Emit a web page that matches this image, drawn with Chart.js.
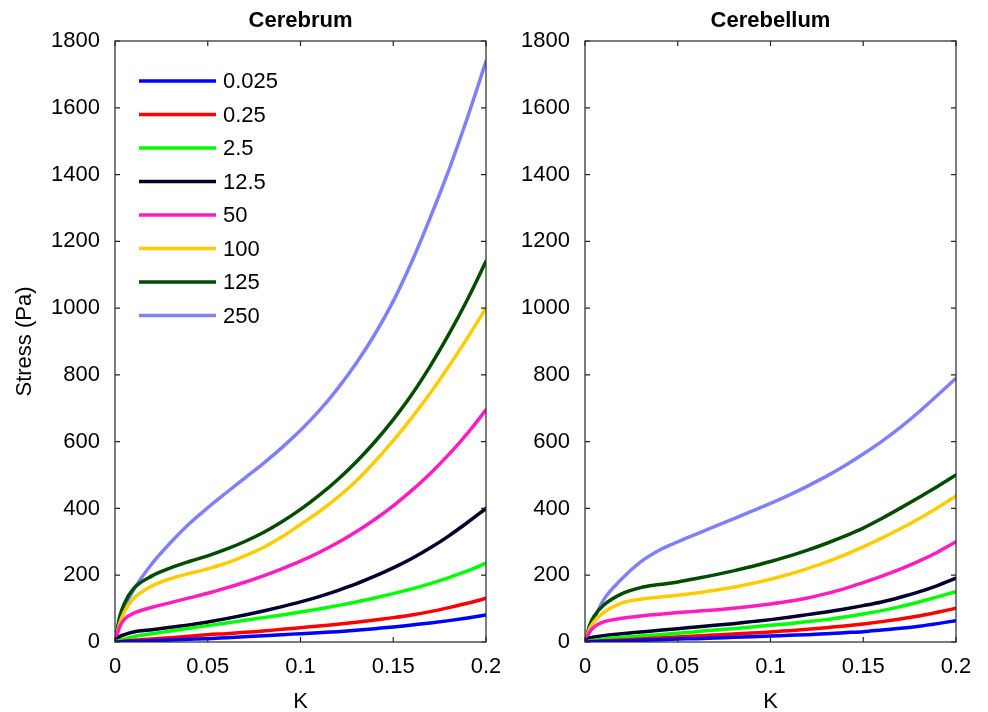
<!DOCTYPE html>
<html>
<head>
<meta charset="utf-8">
<script src="https://cdn.jsdelivr.net/npm/chart.js@4.4.1/dist/chart.umd.min.js"></script>
<style>
  html, body { margin: 0; padding: 0; background: #fff; }
  #wrap { position: relative; width: 988px; height: 712px; overflow: hidden; }
  #c1 { position: absolute; left: 0; top: 0; }
  #c2 { position: absolute; left: 500px; top: 0; }
</style>
</head>
<body>
<div id="wrap">
  <canvas id="c1" width="500" height="712" style="width:500px;height:712px"></canvas>
  <canvas id="c2" width="488" height="712" style="width:488px;height:712px"></canvas>
</div>
<script>
// ---------- DATA ----------
const strain = [0, 0.0025, 0.005, 0.01, 0.02, 0.03, 0.04, 0.05, 0.06, 0.07, 0.08, 0.09, 0.10,
                0.11, 0.12, 0.13, 0.14, 0.15, 0.16, 0.17, 0.18, 0.19, 0.20];
const seriesNames = ['0.025', '0.25', '2.5', '12.5', '50', '100', '125', '250'];

// Cerebrum (left panel), stress in Pa
const cerebrum_0_025 = [0, 0.5, 1, 2, 4, 6, 8, 10, 13, 16, 19, 22, 25, 28, 31, 35, 40, 45, 51, 57, 64, 72, 81];
const cerebrum_0_25  = [0, 1, 3, 5, 9, 13, 17, 22, 25, 29, 33, 38, 43, 48, 53, 59, 66, 73, 81, 91, 103, 116, 131];
const cerebrum_2_5   = [0, 5, 9, 16, 25, 33, 41, 49, 57, 65, 73, 81, 90, 99, 109, 120, 132, 145, 159, 175, 193, 213, 236];
const cerebrum_12_5  = [0, 16, 22, 30, 37, 44, 51, 60, 70, 81, 93, 106, 120, 136, 154, 174, 197, 222, 250, 282, 318, 358, 400];
const cerebrum_50    = [0, 45, 68, 86, 104, 118, 132, 146, 162, 179, 198, 219, 242, 268, 297, 330, 367, 408, 454, 505, 562, 625, 695];
const cerebrum_100   = [0, 55, 90, 130, 168, 190, 205, 219, 236, 258, 283, 315, 352, 390, 433, 482, 540, 603, 672, 746, 826, 911, 1000];
const cerebrum_125   = [0, 75, 115, 160, 198, 222, 241, 258, 278, 301, 328, 360, 397, 439, 486, 539, 599, 666, 741, 827, 922, 1026, 1140];
const cerebrum_250   = [0, 60, 100, 156, 235, 298, 354, 402, 447, 491, 535, 582, 634, 692, 759, 835, 921, 1021, 1139, 1272, 1414, 1571, 1739];

// Cerebellum (right panel), stress in Pa
const cerebellum_0_025 = [0, 0.5, 1, 2, 3, 5, 7, 9, 10, 12, 14, 16, 18, 20, 22, 25, 28, 31, 36, 41, 47, 55, 64];
const cerebellum_0_25  = [0, 1, 2, 3, 6, 9, 12, 15, 18, 21, 24, 27, 30, 34, 38, 43, 48, 54, 61, 69, 78, 89, 101];
const cerebellum_2_5   = [0, 3, 5, 9, 14, 18, 22, 26, 31, 36, 40, 45, 50, 55, 61, 67, 75, 84, 94, 106, 120, 135, 151];
const cerebellum_12_5  = [0, 12, 15, 19, 25, 30, 35, 40, 45, 50, 55, 61, 67, 74, 82, 90, 99, 109, 120, 134, 150, 169, 191];
const cerebellum_50    = [0, 30, 45, 60, 71, 78, 83, 88, 92, 96, 101, 107, 114, 122, 132, 145, 160, 178, 197, 218, 242, 269, 300];
const cerebellum_100   = [0, 40, 62, 88, 117, 128, 134, 140, 147, 155, 164, 175, 188, 203, 220, 239, 261, 285, 311, 339, 369, 402, 437];
const cerebellum_125   = [0, 50, 78, 110, 145, 163, 172, 180, 190, 201, 213, 226, 241, 257, 275, 295, 317, 341, 370, 401, 433, 466, 500];
const cerebellum_250   = [0, 40, 70, 126, 190, 240, 275, 300, 323, 346, 369, 392, 415, 440, 467, 496, 528, 563, 601, 643, 689, 739, 790];

const xTickValues = [0, 0.05, 0.1, 0.15, 0.2];
const xTickLabels = ['0', '0.05', '0.1', '0.15', '0.2'];
const yTickValues = [0, 200, 400, 600, 800, 1000, 1200, 1400, 1600, 1800];
const yTickLabels = ['0', '200', '400', '600', '800', '1000', '1200', '1400', '1600', '1800'];

// ---------- STYLE ----------
const seriesColors = ['#0000ff', '#ff0000', '#00ff00', '#00002e', '#ff1cc0', '#ffcc00', '#004d00', '#8080ff'];
const FONT = '"Liberation Sans", Arial, Helvetica, sans-serif';
const AXIS_COLOR = '#262626';

const cerebrumSeries = [cerebrum_0_025, cerebrum_0_25, cerebrum_2_5, cerebrum_12_5, cerebrum_50, cerebrum_100, cerebrum_125, cerebrum_250];
const cerebellumSeries = [cerebellum_0_025, cerebellum_0_25, cerebellum_2_5, cerebellum_12_5, cerebellum_50, cerebellum_100, cerebellum_125, cerebellum_250];

function makeDatasets(seriesList) {
  return seriesList.map((vals, i) => ({
    label: seriesNames[i],
    data: strain.map((x, j) => ({ x: x, y: vals[j] })),
    borderColor: seriesColors[i],
    backgroundColor: seriesColors[i],
    borderWidth: 3.5,
    pointRadius: 0,
    pointHoverRadius: 0,
    fill: false,
    cubicInterpolationMode: 'monotone',
    borderCapStyle: 'round',
    borderJoinStyle: 'round'
  }));
}

// Box frame + inward ticks (MATLAB style), positions from the chart's own scales
const framePlugin = {
  id: 'frame',
  afterDraw(chart) {
    const { ctx, chartArea: a, scales } = chart;
    ctx.save();
    ctx.strokeStyle = AXIS_COLOR;
    ctx.lineWidth = 1.2;
    ctx.strokeRect(a.left, a.top, a.right - a.left, a.bottom - a.top);
    const tl = 5;
    ctx.beginPath();
    xTickValues.forEach(v => {
      const px = scales.x.getPixelForValue(v);
      ctx.moveTo(px, a.bottom); ctx.lineTo(px, a.bottom - tl);
      ctx.moveTo(px, a.top); ctx.lineTo(px, a.top + tl);
    });
    yTickValues.forEach(v => {
      const py = scales.y.getPixelForValue(v);
      ctx.moveTo(a.left, py); ctx.lineTo(a.left + tl, py);
      ctx.moveTo(a.right, py); ctx.lineTo(a.right - tl, py);
    });
    ctx.stroke();
    ctx.restore();
  }
};

// In-plot legend (no box), drawn from the dataset labels/colours
const legendPlugin = {
  id: 'inLegend',
  afterDraw(chart, args, opts) {
    if (!opts || !opts.show) return;
    const { ctx, chartArea: a } = chart;
    ctx.save();
    ctx.font = '22px ' + FONT;
    ctx.textBaseline = 'middle';
    ctx.textAlign = 'left';
    chart.data.datasets.forEach((ds, i) => {
      const y = a.top + 40 + i * 33.5;
      const x0 = a.left + 24;
      ctx.strokeStyle = ds.borderColor;
      ctx.lineWidth = 3.5;
      ctx.beginPath();
      ctx.moveTo(x0, y); ctx.lineTo(x0 + 77, y);
      ctx.stroke();
      ctx.fillStyle = '#000';
      ctx.fillText(ds.label, x0 + 84, y + 1);
    });
    ctx.restore();
  }
};

function makeChart(canvasId, title, seriesList, yAxisWidth, rightPad, showYTitle, showLegend) {
  return new Chart(document.getElementById(canvasId), {
    type: 'line',
    data: { datasets: makeDatasets(seriesList) },
    options: {
      responsive: false,
      animation: false,
      events: [],
      layout: { padding: { left: 0, right: rightPad, top: 0, bottom: 0 } },
      plugins: {
        legend: { display: false },
        tooltip: { enabled: false },
        title: {
          display: true,
          text: title,
          fullSize: false,
          color: '#000',
          font: { family: FONT, size: 22, weight: 'bold' },
          padding: { top: 8, bottom: 6.6 }
        },
        inLegend: { show: showLegend }
      },
      scales: {
        x: {
          type: 'linear',
          min: 0, max: 0.2,
          afterBuildTicks(scale) { scale.ticks = xTickValues.map(v => ({ value: v })); },
          afterFit(scale) { scale.height = 70; scale.paddingLeft = 0; scale.paddingRight = 0; },
          grid: { display: false, drawTicks: false },
          border: { display: false },
          ticks: {
            color: '#000',
            padding: 12,
            maxRotation: 0,
            font: { family: FONT, size: 22 },
            callback: (v, i) => xTickLabels[i]
          },
          title: {
            display: true, text: 'K', color: '#000',
            font: { family: FONT, size: 22 },
            padding: { top: 0, bottom: -3 }
          }
        },
        y: {
          type: 'linear',
          min: 0, max: 1800,
          afterBuildTicks(scale) { scale.ticks = yTickValues.map(v => ({ value: v })); },
          afterFit(scale) { scale.width = yAxisWidth; scale.paddingTop = 0; scale.paddingBottom = 0; },
          grid: { display: false, drawTicks: false },
          border: { display: false },
          ticks: {
            color: '#000',
            padding: 15,
            font: { family: FONT, size: 22 },
            callback: (v, i) => yTickLabels[i]
          },
          title: {
            display: showYTitle, text: 'Stress (Pa)', color: '#000',
            font: { family: FONT, size: 22 },
            padding: { top: 12, bottom: 0 }
          }
        }
      }
    },
    plugins: [framePlugin, legendPlugin]
  });
}

makeChart('c1', 'Cerebrum', cerebrumSeries, 115, 14, true, true);
makeChart('c2', 'Cerebellum', cerebellumSeries, 85, 32, false, false);
</script>
</body>
</html>
